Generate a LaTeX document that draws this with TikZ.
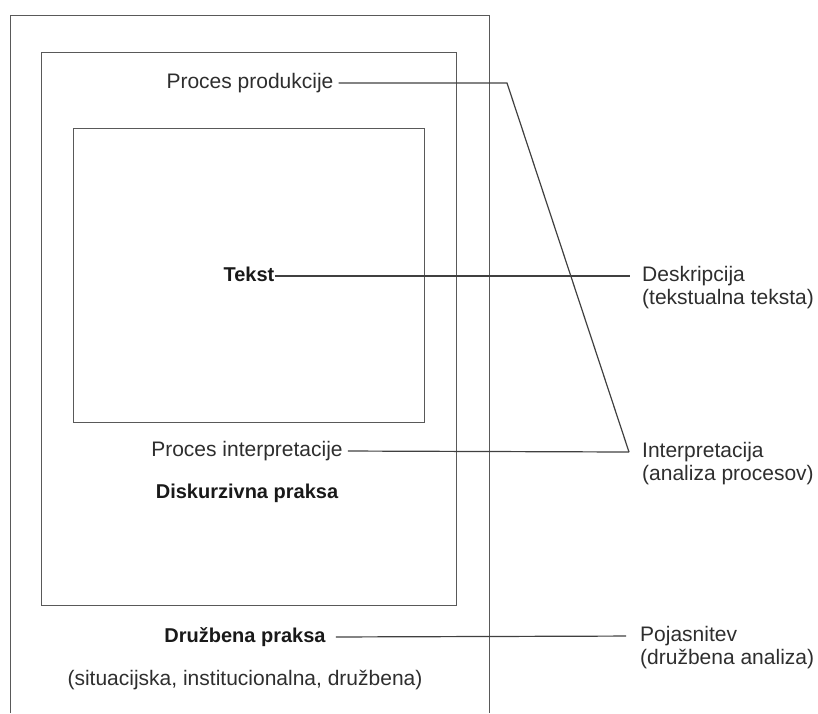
\documentclass[tikz,border=0pt]{standalone}
\usepackage{fontspec}
\setmainfont{Liberation Sans}
\usetikzlibrary{positioning}
\begin{document}
\begin{tikzpicture}[
        x=1pt, y=-1pt,
        node distance=3pt,
        frame/.style={draw=black!65, line width=1pt},
        link/.style={draw=black!75, line width=1.2pt},
        label/.style={inner sep=0pt, text height=15pt, text depth=4.5pt, text=black!82, font=\fontsize{21}{24}\selectfont},
        heading/.style={label, text=black!90, font=\fontsize{20}{24}\selectfont\bfseries}
    ]
        \useasboundingbox (0,0) rectangle (818,713);

        % Frames
        \draw[frame] (10,713) -- (10,15) -- (489,15) -- (489,713);
        \draw[frame] (41,52) rectangle (456,605);
        \draw[frame] (73,128) rectangle (424,422);

        % Levels
        \node[label] (prod) at (250,83) {Proces produkcije};
        \node[heading] (tekst) at (249,276) {Tekst};
        \node[label] (procint) at (247,451) {Proces interpretacije};
        \node[heading, below=22pt of procint] (diskurz) {Diskurzivna praksa};
        \node[heading] (druzb) at (245,637) {Družbena praksa};
        \node[label, below=23pt of druzb] (situac) {(situacijska, institucionalna, družbena)};

        % Analysis
        \node[label, anchor=west] (desk) at (642,276) {Deskripcija};
        \node[label, below=of desk.south west, anchor=north west] (desksub) {(tekstualna teksta)};
        \node[label, anchor=west] (interp) at (642,452) {Interpretacija};
        \node[label, below=of interp.south west, anchor=north west] (interpsub) {(analiza procesov)};
        \node[label, anchor=west] (pojas) at (640,636) {Pojasnitev};
        \node[label, below=of pojas.south west, anchor=north west] (pojassub) {(družbena analiza)};

        \coordinate (bend) at (507,83);
        \coordinate[left=13pt of interp] (imeet);

        % Connectors
        \draw[link, shorten <=5pt] (prod.east) -- (bend) -- (imeet);
        \draw[link, shorten >=12pt] (tekst.east) -- (desk.west);
        \draw[link, shorten <=5pt] (procint.east) -- (imeet);
        \draw[link, shorten <=10pt, shorten >=14pt] (druzb.east) -- (pojas.west);

    \end{tikzpicture}
\end{document}
